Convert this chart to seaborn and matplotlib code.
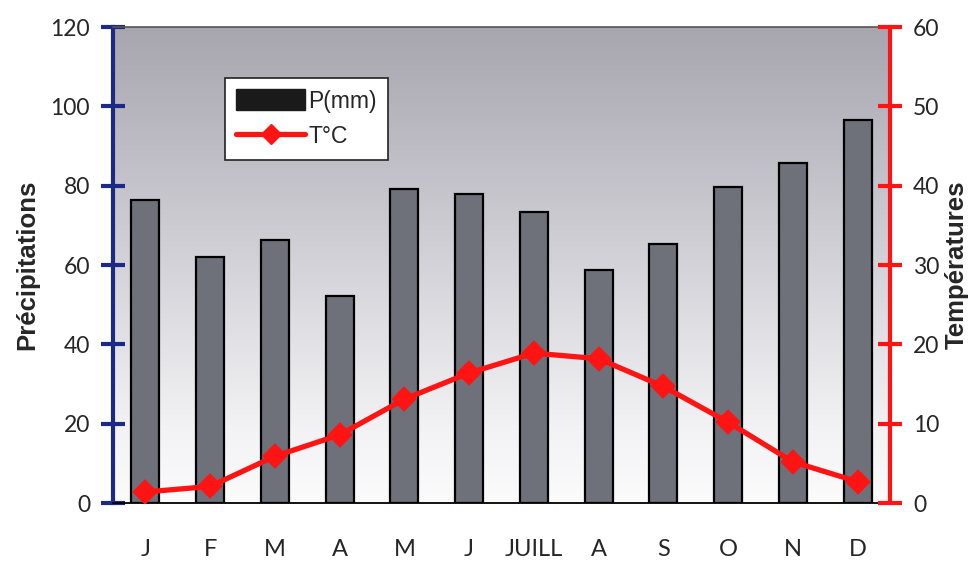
import numpy as np
import pandas as pd
import matplotlib
matplotlib.use('Agg')
import matplotlib.pyplot as plt
from matplotlib.colors import LinearSegmentedColormap
from matplotlib.lines import Line2D
from matplotlib.patches import Patch
import seaborn as sns

# données climatiques
mois = ['J', 'F', 'M', 'A', 'M', 'J', 'JUILL', 'A', 'S', 'O', 'N', 'D']
precip = [76.3, 62.0, 66.4, 52.1, 79.1, 78.0, 73.4, 58.7, 65.2, 79.7, 85.8, 96.5]
temp = [1.4, 2.1, 5.9, 8.6, 13.1, 16.4, 18.9, 18.2, 14.7, 10.2, 5.2, 2.7]

df = pd.DataFrame({'idx': range(len(mois)), 'P': precip, 'T': temp})

sns.set_style('white')
plt.rcParams['font.family'] = ['Lato', 'DejaVu Sans']

fig = plt.figure(figsize=(9.68, 5.64), dpi=100)
ax = fig.add_axes([0.1167, 0.108, 0.8027, 0.844])

# fond en dégradé gris -> blanc
cmap = LinearSegmentedColormap.from_list(
    'fond', [(0.0, '#fbfbfc'), (0.15, '#f3f3f5'), (0.55, '#cfced5'), (1.0, '#a7a6af')])
grad = np.linspace(0, 1, 256).reshape(-1, 1)
ax.imshow(grad, cmap=cmap, origin='lower', aspect='auto',
          extent=(-0.5, 11.5, 0, 120), zorder=0)

sns.barplot(data=df, x='idx', y='P', ax=ax, color='#6e717a', saturation=1,
            width=0.43, edgecolor='black', linewidth=1.6, zorder=2)

ax2 = ax.twinx()
sns.pointplot(data=df, x='idx', y='T', ax=ax2, color='#ff1414',
              markers='D', markersize=10, linewidth=3.8, zorder=3)

ax.set_xlim(-0.5, 11.5)
ax.set_ylim(0, 120)
ax2.set_ylim(0, 60)
ax2.set_xlim(-0.5, 11.5)

ax.set_yticks(range(0, 121, 20))
ax2.set_yticks(range(0, 61, 10))

# axe x : étiquettes au centre, traits entre les mois
ax.set_xticks(range(12))
ax.set_xticklabels(mois, fontsize=17)
ax.set_xticks(np.arange(-0.5, 12, 1), minor=True)
ax.tick_params(axis='x', which='major', length=0, pad=26)
ax.tick_params(axis='x', which='minor', direction='inout', length=12,
               width=1, color='#333333')
ax.set_xlabel('')
ax2.set_xlabel('')

navy = '#1c2a86'
rouge = '#ff1414'
ax.tick_params(axis='y', direction='inout', length=17, width=3, color=navy,
               labelsize=16.5, pad=8)
ax2.tick_params(axis='y', direction='inout', length=17, width=3, color=rouge,
                labelsize=16.5, pad=8)

for a in (ax, ax2):
    for s in a.spines.values():
        s.set_visible(False)
ax.spines['left'].set_visible(True)
ax.spines['left'].set_color(navy)
ax.spines['left'].set_linewidth(3)
ax.spines['bottom'].set_visible(True)
ax.spines['bottom'].set_color('black')
ax.spines['bottom'].set_linewidth(1.3)
ax.spines['top'].set_visible(True)
ax.spines['top'].set_color('#555555')
ax.spines['top'].set_linewidth(1.2)
ax2.spines['right'].set_visible(True)
ax2.spines['right'].set_color(rouge)
ax2.spines['right'].set_linewidth(3)

ax.set_ylabel('Précipitations', fontsize=18.5, fontweight='bold',
              family='Liberation Sans', labelpad=8)
ax2.set_ylabel('Températures', fontsize=18.5, fontweight='bold',
               family='Liberation Sans', labelpad=4)

handles = [Patch(facecolor='#1a1a1a', edgecolor='#1a1a1a'),
           Line2D([0], [0], color=rouge, lw=3.8, marker='D', markersize=10)]
leg = ax2.legend(handles, ['P(mm)', 'T°C'], loc='upper left',
                 bbox_to_anchor=(0.144, 0.893), frameon=True, fancybox=False,
                 prop={'family': 'Liberation Sans', 'size': 16.5},
                 handlelength=3.0, handleheight=1.0, handletextpad=0.15,
                 borderpad=0.5, labelspacing=0.55, borderaxespad=0)
leg.get_frame().set_edgecolor('#222222')
leg.get_frame().set_linewidth(1.2)
leg.get_frame().set_facecolor('white')
leg.get_frame().set_alpha(1)

fig.savefig('out.png', dpi=100)
